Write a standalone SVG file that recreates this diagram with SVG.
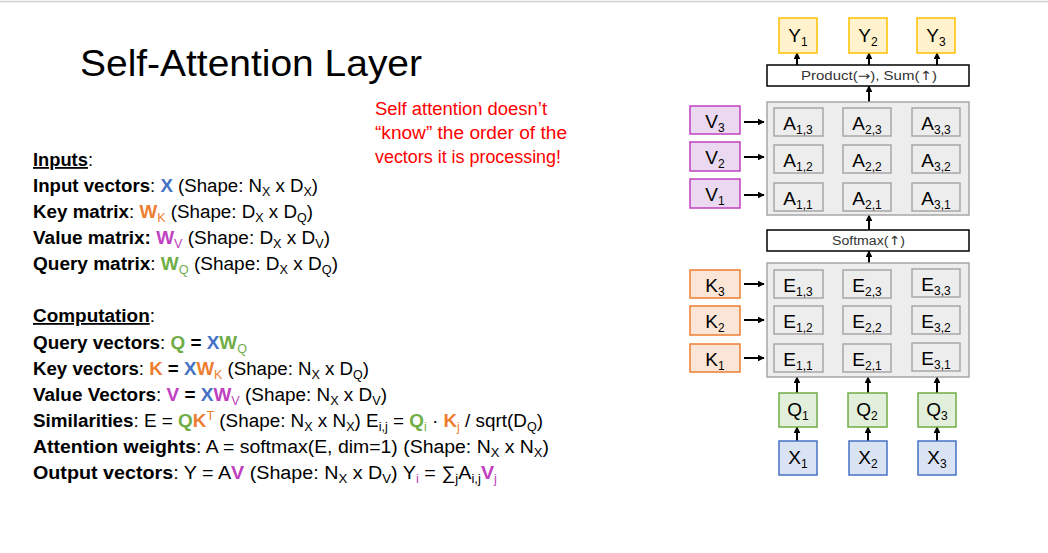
<svg xmlns="http://www.w3.org/2000/svg" width="1048" height="553" viewBox="0 0 1048 553">
<defs>
<marker id="ah" viewBox="0 0 10 10" refX="9" refY="5" markerWidth="3.4" markerHeight="3.4" orient="auto" markerUnits="strokeWidth">
<path d="M0,0 L10,5 L0,10 z" fill="#000"/>
</marker>
<style>
text{font-family:"Liberation Sans",Arial,sans-serif;fill:#000}
.t{font-size:18px}
.b{font-weight:bold}
.bl{fill:#4472C4;font-weight:bold}
.or{fill:#ED7D31;font-weight:bold}
.pu{fill:#C040C0;font-weight:bold}
.gr{fill:#70AD47;font-weight:bold}
.s{font-size:12px;font-weight:normal}
.red{fill:#FF0000;font-size:18px}
.panel{fill:#EDEDED;stroke:#A6A6A6;stroke-width:1.5}
.cell{fill:#EDEDED;stroke:#A6A6A6;stroke-width:1.5}
.lbl{font-size:19px;text-anchor:middle}
.ls{font-size:12px}
.ybox{fill:#FFF2CC;stroke:#FFC000;stroke-width:1.5}
.vbox{fill:#EAD9F0;stroke:#C040C0;stroke-width:1.5}
.kbox{fill:#FBE5D6;stroke:#ED7D31;stroke-width:1.5}
.qbox{fill:#E2EFDA;stroke:#70AD47;stroke-width:1.5}
.xbox{fill:#DAE3F3;stroke:#4472C4;stroke-width:1.5}
.wbox{fill:#fff;stroke:#000;stroke-width:1.5}
.op{font-size:12.5px;fill:#333}
.sym{font-family:"DejaVu Sans",sans-serif}
.arr{stroke:#000;stroke-width:2;marker-end:url(#ah);fill:none}
</style>
</defs>
<rect width="1048" height="553" fill="#fff"/>
<line x1="0" y1="1.5" x2="1048" y2="1.5" stroke="#D0D0D0" stroke-width="1.5"/>

<g id="title"><text x="80" y="76" font-size="36" textLength="342" lengthAdjust="spacingAndGlyphs">Self-Attention Layer</text></g>

<g id="note"><text class="red" x="375" y="115" textLength="172" lengthAdjust="spacingAndGlyphs">Self attention doesn’t</text>
<text class="red" x="375" y="139" textLength="192" lengthAdjust="spacingAndGlyphs">“know” the order of the</text>
<text class="red" x="375" y="163" textLength="186" lengthAdjust="spacingAndGlyphs">vectors it is processing!</text></g>

<g id="inputs" class="t">
<text class="t" x="33" y="166" textLength="60" lengthAdjust="spacingAndGlyphs"><tspan class="b" text-decoration="underline">Inputs</tspan>:</text>
<text class="t" x="33" y="192" textLength="285" lengthAdjust="spacingAndGlyphs"><tspan class="b">Input vectors</tspan>: <tspan class="bl">X</tspan> (Shape: N<tspan class="s" dy="4">X</tspan><tspan dy="-4"> x D</tspan><tspan class="s" dy="4">X</tspan><tspan dy="-4">)</tspan></text>
<text class="t" x="33" y="218" textLength="280" lengthAdjust="spacingAndGlyphs"><tspan class="b">Key matrix</tspan>: <tspan class="or">W</tspan><tspan class="s" fill="#ED7D31" dy="4">K</tspan><tspan dy="-4"> (Shape: D</tspan><tspan class="s" dy="4">X</tspan><tspan dy="-4"> x D</tspan><tspan class="s" dy="4">Q</tspan><tspan dy="-4">)</tspan></text>
<text class="t" x="33" y="244" textLength="297" lengthAdjust="spacingAndGlyphs"><tspan class="b">Value matrix:</tspan> <tspan class="pu">W</tspan><tspan class="s" fill="#C040C0" dy="4">V</tspan><tspan dy="-4"> (Shape: D</tspan><tspan class="s" dy="4">X</tspan><tspan dy="-4"> x D</tspan><tspan class="s" dy="4">V</tspan><tspan dy="-4">)</tspan></text>
<text class="t" x="33" y="270" textLength="305" lengthAdjust="spacingAndGlyphs"><tspan class="b">Query matrix</tspan>: <tspan class="gr">W</tspan><tspan class="s" fill="#70AD47" dy="4">Q</tspan><tspan dy="-4"> (Shape: D</tspan><tspan class="s" dy="4">X</tspan><tspan dy="-4"> x D</tspan><tspan class="s" dy="4">Q</tspan><tspan dy="-4">)</tspan></text>
</g>

<g id="computation">
<text class="t" x="33" y="322" textLength="122" lengthAdjust="spacingAndGlyphs"><tspan class="b" text-decoration="underline">Computation</tspan>:</text>
<text class="t" x="33" y="349" textLength="214" lengthAdjust="spacingAndGlyphs"><tspan class="b">Query vectors</tspan>: <tspan class="gr">Q</tspan><tspan class="b"> = </tspan><tspan class="bl">X</tspan><tspan class="gr">W</tspan><tspan class="s" fill="#70AD47" dy="4">Q</tspan></text>
<text class="t" x="33" y="375" textLength="336" lengthAdjust="spacingAndGlyphs"><tspan class="b">Key vectors</tspan>: <tspan class="or">K</tspan><tspan class="b"> = </tspan><tspan class="bl">X</tspan><tspan class="or">W</tspan><tspan class="s" fill="#ED7D31" dy="4">K</tspan><tspan dy="-4">  (Shape: N</tspan><tspan class="s" dy="4">X</tspan><tspan dy="-4"> x D</tspan><tspan class="s" dy="4">Q</tspan><tspan dy="-4">)</tspan></text>
<text class="t" x="33" y="401" textLength="354" lengthAdjust="spacingAndGlyphs"><tspan class="b">Value Vectors</tspan>: <tspan class="pu">V</tspan><tspan class="b"> = </tspan><tspan class="bl">X</tspan><tspan class="pu">W</tspan><tspan class="s" fill="#C040C0" dy="4">V</tspan><tspan dy="-4"> (Shape: N</tspan><tspan class="s" dy="4">X</tspan><tspan dy="-4"> x D</tspan><tspan class="s" dy="4">V</tspan><tspan dy="-4">)</tspan></text>
<text class="t" x="33" y="427" textLength="510" lengthAdjust="spacingAndGlyphs"><tspan class="b">Similarities</tspan>: E = <tspan class="gr">Q</tspan><tspan class="or">K</tspan><tspan class="s" fill="#ED7D31" dy="-7">T</tspan><tspan dy="7"> (Shape: N</tspan><tspan class="s" dy="4">X</tspan><tspan dy="-4"> x N</tspan><tspan class="s" dy="4">X</tspan><tspan dy="-4">) E</tspan><tspan class="s" dy="4">i,j</tspan><tspan dy="-4"> = </tspan><tspan class="gr">Q</tspan><tspan class="s" fill="#70AD47" dy="4">i</tspan><tspan dy="-4"> · </tspan><tspan class="or">K</tspan><tspan class="s" fill="#ED7D31" dy="4">j</tspan><tspan dy="-4"> / sqrt(D</tspan><tspan class="s" dy="4">Q</tspan><tspan dy="-4">)</tspan></text>
<text class="t" x="33" y="453" textLength="516" lengthAdjust="spacingAndGlyphs"><tspan class="b">Attention weights</tspan>: A = softmax(E, dim=1)  (Shape: N<tspan class="s" dy="4">X</tspan><tspan dy="-4"> x N</tspan><tspan class="s" dy="4">X</tspan><tspan dy="-4">)</tspan></text>
<text class="t" x="33" y="479" textLength="464" lengthAdjust="spacingAndGlyphs"><tspan class="b">Output vectors</tspan>: Y = A<tspan class="pu">V</tspan> (Shape: N<tspan class="s" dy="4">X</tspan><tspan dy="-4"> x D</tspan><tspan class="s" dy="4">V</tspan><tspan dy="-4">) Y</tspan><tspan class="s" fill="#C040C0" dy="4">i</tspan><tspan dy="-4"> = ∑</tspan><tspan class="s" dy="4">j</tspan><tspan dy="-4">A</tspan><tspan class="s" dy="4">i,j</tspan><tspan class="pu" dy="-4">V</tspan><tspan class="s" fill="#C040C0" dy="4">j</tspan></text>
</g>

<g id="connectors">
<line class="arr" x1="797" y1="65" x2="797" y2="53"/>
<line class="arr" x1="869" y1="65" x2="869" y2="53"/>
<line class="arr" x1="937" y1="65" x2="937" y2="53"/>
<line class="arr" x1="869" y1="102" x2="869" y2="86"/>
<line class="arr" x1="869" y1="230" x2="869" y2="215"/>
<line class="arr" x1="869" y1="263" x2="869" y2="251"/>
<line class="arr" x1="797" y1="393" x2="797" y2="377"/>
<line class="arr" x1="868" y1="393" x2="868" y2="377"/>
<line class="arr" x1="937" y1="393" x2="937" y2="377"/>
<line class="arr" x1="797" y1="441" x2="797" y2="427"/>
<line class="arr" x1="868" y1="441" x2="868" y2="427"/>
<line class="arr" x1="937" y1="441" x2="937" y2="427"/>
<line class="arr" x1="744" y1="122" x2="764" y2="122"/>
<line class="arr" x1="744" y1="157" x2="764" y2="157"/>
<line class="arr" x1="744" y1="195" x2="764" y2="195"/>
<line class="arr" x1="744" y1="284" x2="764" y2="284"/>
<line class="arr" x1="744" y1="320" x2="764" y2="320"/>
<line class="arr" x1="744" y1="358" x2="764" y2="358"/>
</g>

<g id="Y1"><rect class="ybox" x="779" y="18" width="38" height="35"/><text class="lbl" x="798" y="42">Y<tspan class="ls" dy="4">1</tspan></text></g>
<g id="Y2"><rect class="ybox" x="849" y="18" width="38" height="35"/><text class="lbl" x="868" y="42">Y<tspan class="ls" dy="4">2</tspan></text></g>
<g id="Y3"><rect class="ybox" x="917" y="18" width="38" height="35"/><text class="lbl" x="936" y="42">Y<tspan class="ls" dy="4">3</tspan></text></g>

<g id="product"><rect class="wbox" x="767" y="65" width="202" height="21"/><text class="op" x="801" y="80" textLength="136" lengthAdjust="spacingAndGlyphs">Product(<tspan class="sym">→</tspan>),  Sum(<tspan class="sym">↑</tspan>)</text></g>

<g id="Apanel"><rect class="panel" x="767" y="102" width="202" height="113"/>
<rect class="cell" x="774" y="108" width="49" height="28"/><text class="lbl" x="798" y="130">A<tspan class="ls" dy="4">1,3</tspan></text>
<rect class="cell" x="843" y="108" width="48" height="28"/><text class="lbl" x="867" y="130">A<tspan class="ls" dy="4">2,3</tspan></text>
<rect class="cell" x="912" y="108" width="48" height="28"/><text class="lbl" x="936" y="130">A<tspan class="ls" dy="4">3,3</tspan></text>
<rect class="cell" x="774" y="145" width="49" height="28"/><text class="lbl" x="798" y="167">A<tspan class="ls" dy="4">1,2</tspan></text>
<rect class="cell" x="843" y="145" width="48" height="28"/><text class="lbl" x="867" y="167">A<tspan class="ls" dy="4">2,2</tspan></text>
<rect class="cell" x="912" y="145" width="48" height="28"/><text class="lbl" x="936" y="167">A<tspan class="ls" dy="4">3,2</tspan></text>
<rect class="cell" x="774" y="183" width="49" height="28"/><text class="lbl" x="798" y="205">A<tspan class="ls" dy="4">1,1</tspan></text>
<rect class="cell" x="843" y="183" width="48" height="28"/><text class="lbl" x="867" y="205">A<tspan class="ls" dy="4">2,1</tspan></text>
<rect class="cell" x="912" y="183" width="48" height="28"/><text class="lbl" x="936" y="205">A<tspan class="ls" dy="4">3,1</tspan></text>
</g>

<g id="V3"><rect class="vbox" x="690" y="106" width="50" height="28"/><text class="lbl" x="715" y="128">V<tspan class="ls" dy="4">3</tspan></text></g>
<g id="V2"><rect class="vbox" x="690" y="142" width="50" height="29"/><text class="lbl" x="715" y="164">V<tspan class="ls" dy="4">2</tspan></text></g>
<g id="V1"><rect class="vbox" x="690" y="179" width="50" height="29"/><text class="lbl" x="715" y="201">V<tspan class="ls" dy="4">1</tspan></text></g>

<g id="softmax"><rect class="wbox" x="767" y="230" width="202" height="21"/><text class="op" x="832" y="245" textLength="73" lengthAdjust="spacingAndGlyphs">Softmax(<tspan class="sym">↑</tspan>)</text></g>

<g id="Epanel"><rect class="panel" x="767" y="263" width="202" height="114"/>
<rect class="cell" x="774" y="270" width="49" height="28"/><text class="lbl" x="798" y="292">E<tspan class="ls" dy="4">1,3</tspan></text>
<rect class="cell" x="843" y="270" width="48" height="28"/><text class="lbl" x="867" y="292">E<tspan class="ls" dy="4">2,3</tspan></text>
<rect class="cell" x="912" y="269" width="48" height="28"/><text class="lbl" x="936" y="291">E<tspan class="ls" dy="4">3,3</tspan></text>
<rect class="cell" x="774" y="306" width="49" height="28"/><text class="lbl" x="798" y="328">E<tspan class="ls" dy="4">1,2</tspan></text>
<rect class="cell" x="843" y="306" width="48" height="28"/><text class="lbl" x="867" y="328">E<tspan class="ls" dy="4">2,2</tspan></text>
<rect class="cell" x="912" y="306" width="48" height="28"/><text class="lbl" x="936" y="328">E<tspan class="ls" dy="4">3,2</tspan></text>
<rect class="cell" x="774" y="344" width="49" height="28"/><text class="lbl" x="798" y="366">E<tspan class="ls" dy="4">1,1</tspan></text>
<rect class="cell" x="843" y="344" width="48" height="28"/><text class="lbl" x="867" y="366">E<tspan class="ls" dy="4">2,1</tspan></text>
<rect class="cell" x="912" y="343" width="48" height="28"/><text class="lbl" x="936" y="365">E<tspan class="ls" dy="4">3,1</tspan></text>
</g>

<g id="K3"><rect class="kbox" x="690" y="270" width="50" height="28"/><text class="lbl" x="715" y="292">K<tspan class="ls" dy="4">3</tspan></text></g>
<g id="K2"><rect class="kbox" x="690" y="306" width="50" height="29"/><text class="lbl" x="715" y="328">K<tspan class="ls" dy="4">2</tspan></text></g>
<g id="K1"><rect class="kbox" x="690" y="344" width="50" height="28"/><text class="lbl" x="715" y="366">K<tspan class="ls" dy="4">1</tspan></text></g>

<g id="Q1"><rect class="qbox" x="779" y="393" width="38" height="34"/><text class="lbl" x="798" y="416">Q<tspan class="ls" dy="4">1</tspan></text></g>
<g id="Q2"><rect class="qbox" x="848" y="393" width="39" height="34"/><text class="lbl" x="867" y="416">Q<tspan class="ls" dy="4">2</tspan></text></g>
<g id="Q3"><rect class="qbox" x="918" y="393" width="38" height="34"/><text class="lbl" x="937" y="416">Q<tspan class="ls" dy="4">3</tspan></text></g>

<g id="X1"><rect class="xbox" x="779" y="441" width="38" height="34"/><text class="lbl" x="798" y="464">X<tspan class="ls" dy="4">1</tspan></text></g>
<g id="X2"><rect class="xbox" x="849" y="441" width="38" height="34"/><text class="lbl" x="868" y="464">X<tspan class="ls" dy="4">2</tspan></text></g>
<g id="X3"><rect class="xbox" x="918" y="441" width="38" height="34"/><text class="lbl" x="937" y="464">X<tspan class="ls" dy="4">3</tspan></text></g>
</svg>
